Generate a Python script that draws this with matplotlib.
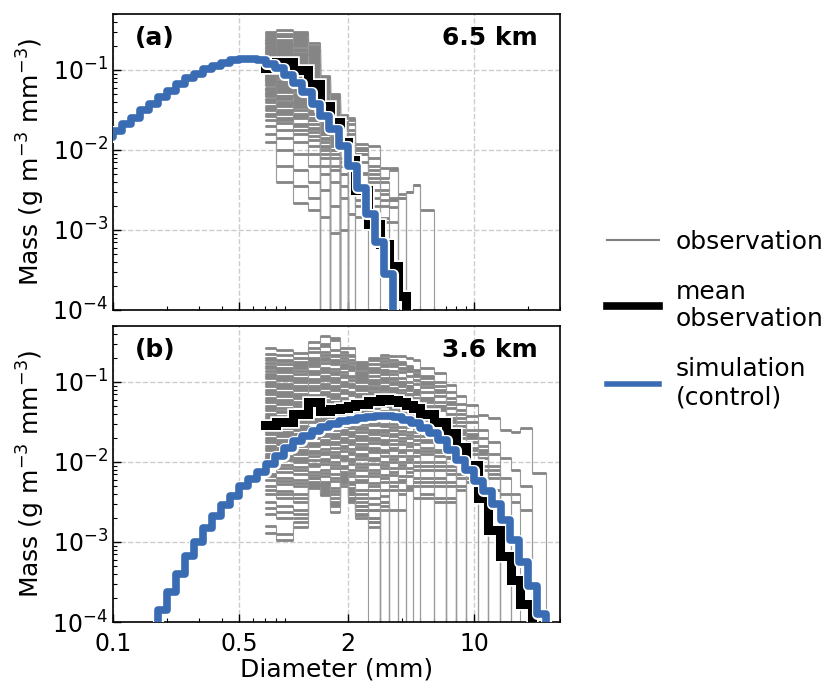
import matplotlib
matplotlib.use("Agg")
import matplotlib.pyplot as plt
import matplotlib.patheffects as pe
from matplotlib.lines import Line2D
from matplotlib.ticker import NullFormatter


BLUE = "#3a6cb4"
FLOOR = 1e-8  # stands in for zero mass, drawn below the axis

# probe size bins (mm) of the observations
OBS_EDGES = [0.7, 0.8, 1.0, 1.2, 1.4, 1.6, 1.8, 2.0, 2.2, 2.6, 3.0, 3.4, 3.8,
             4.2, 4.6, 5.0, 6.0, 7.0, 8.0, 9.0, 10.5, 12.0, 14.0, 16.0, 18.0,
             21.0, 25.0]
# model size bins (mm)
SIM_EDGES = [0.0891, 0.1, 0.112, 0.126, 0.141, 0.158, 0.178, 0.2, 0.224, 0.251,
             0.282, 0.316, 0.355, 0.398, 0.447, 0.501, 0.562, 0.631, 0.708,
             0.794, 0.891, 1.0, 1.12, 1.26, 1.41, 1.58, 1.78, 2.0, 2.24, 2.51,
             2.82, 3.16, 3.55, 3.98, 4.47, 5.01, 5.62, 6.31, 7.08, 7.94, 8.91,
             10.0, 11.2, 12.6, 14.1, 15.8, 17.8, 20.0, 22.4, 25.1, 28.2]

# log10 mass (g m-3 mm-3); None = no particles in the bin
obs_a = [
    [-0.55, -0.50, -0.52, -0.66, -1.08, -1.32, -1.56, -1.60, -1.92, -1.95, -2.22, -2.25, -2.55],
    [-0.58, -0.55, -0.60, -0.72, -1.12, -1.40, -1.65, -1.75, -2.05, -2.20, -2.50],
    [-0.60, -0.62, -0.58, -0.78, -1.15, -1.30, -1.70, -1.62, -1.98, -2.25, -2.35, -2.23, -2.60, -2.53, -2.44, -2.75],
    [-0.63, -0.66, -0.70, -0.85, -1.20, -1.45, -1.80, -1.90, -2.30, -2.60],
    [-0.66, -0.70, -0.68, -0.80, -1.25, -1.50, -1.75, -2.00, -2.29],
    [-0.70, -0.72, -0.76, -0.90, -1.18, -1.55, -1.90, -2.10],
    [-0.72, -0.78, -0.80, -0.95, -1.30, -1.60, -1.85],
    [-0.75, -0.74, -0.85, -1.00, -1.35, -1.58, -2.00, -2.20, -2.63, -2.70, -2.90],
    [-0.78, -0.82, -0.88, -1.05, -1.40, -1.70, -1.95],
    [-0.80, -0.85, -0.90, -1.08, -1.38, -1.65, -2.10, -2.40],
    [-0.83, -0.88, -0.95, -1.10, -1.45, -1.75, -2.20],
    [-0.86, -0.90, -0.98, -1.15, -1.50, -1.80],
    [-0.88, -0.95, -1.02, -1.18, -1.48, -1.85, -2.15, -2.50, -2.84],
    [-0.92, -0.98, -1.05, -1.22, -1.55, -1.90],
    [-0.95, -1.02, -1.10, -1.25, -1.60, -1.88, -2.30],
    [-0.98, -1.05, -1.12, -1.30, -1.62, -1.95],
    [-1.00, -1.08, -1.15, -1.32, -1.65, -2.05, -2.45, -2.80],
    [-1.03, -1.10, -1.20, -1.35, -1.70],
    [-1.06, -1.15, -1.22, -1.40, -1.75, -2.10],
    [-1.10, -1.18, -1.25, -1.42, -1.80, -2.00, -2.60],
    [-1.12, -1.22, -1.30, -1.45, -1.85],
    [-1.15, -1.25, -1.35, -1.50, -1.90, -2.20],
    [-1.18, -1.28, -1.38, -1.55, -1.95],
    [-1.22, -1.32, -1.42, -1.60, -2.00, -2.40, -3.00],
    [-1.25, -1.36, -1.45, -1.62],
    [-1.28, -1.40, -1.50, -1.68, -2.05],
    [-1.32, -1.45, -1.55, -1.72],
    [-1.36, -1.50, -1.60, -1.78, -2.20, -2.70],
    [-1.40, -1.55, -1.68, -1.82],
    [-1.45, -1.60, -1.75, -1.88, -2.30],
    [-1.50, -1.66, -1.80, -1.95],
    [-1.55, -1.75, -1.90, -2.05, -2.50, -3.04],
    [-1.62, -1.85, -2.05, -2.20],
    [-1.70, -2.00, -2.25, -2.40, -2.84],
    [-1.80, -2.20, -2.45, -2.60],
    [-1.90, -2.40, -2.66, -2.75],
    [-1.10, -1.05, -1.10, -1.20, -1.50, -1.70, -1.85, -1.95, -2.05, -2.40, -2.55, -2.63, None, -2.53, -2.44],
    [-0.95, -1.00, -1.05, -1.15, -1.35, -1.60, -1.75, -1.90, -2.00, -2.30, -2.63, -2.71, -2.60],
    [-1.30, -1.35, -1.40, -1.50, -1.80, -2.00, -2.30, -2.50, -2.70, -2.50, -2.85, -2.90],
    [-0.53, -0.57, -0.55, -0.70, -1.10, -1.35],
    [-0.62, -0.58, -0.64, -0.75, -1.14, -1.38, -1.60],
    [-0.68, -0.64, -0.66, -0.82, -1.16, -1.42],
    [-0.73, -0.70, -0.74, -0.88, -1.22, -1.48, -1.72],
    [-0.77, -0.76, -0.82, -0.92, -1.26, -1.52],
    [-0.82, -0.80, -0.86, -0.98, -1.32, -1.56, -1.82],
    [-0.87, -0.84, -0.92, -1.02, -1.36, -1.62],
    [-0.91, -0.89, -0.96, -1.06, -1.42, -1.68, -1.98],
    [-0.96, -0.94, -1.00, -1.12, -1.46, -1.72],
    [-1.01, -1.00, -1.08, -1.16, -1.52, -1.78],
    [-1.07, -1.06, -1.14, -1.24, -1.58, -1.84],
    [-1.13, -1.14, -1.18, -1.28, -1.64, -1.92],
    [-1.19, -1.20, -1.26, -1.34, -1.68],
    [-1.24, -1.26, -1.32, -1.40, -1.72, -2.00],
    [-1.30, -1.33, -1.40, -1.46, -1.78],
    [-1.38, -1.42, -1.46, -1.52, -1.86, -2.25],
    [-1.47, -1.52, -1.58, -1.62, -1.96],
    [-1.58, -1.62, -1.70, -1.74, -2.10],
    [-0.65, -0.68, -0.62, -0.76, -1.10, -1.34, -1.58, -1.68, -2.00, -2.10, -2.40, -2.60],
    [-0.85, -0.82, -0.80, -0.94, -1.28, -1.46, -1.68, -1.80, -2.15, -2.35, -2.70, -2.63],
]

obs_b = [
    [-0.58, -0.60, -0.64, -0.50, -0.42, -0.47, -0.62, -0.66, -0.80, -0.85, -0.90, -0.95, -1.00, -1.05, -1.10, -1.20, -1.30, -1.45, -1.60, -1.75, -1.90, -2.10],
    [-0.70, -0.72, -0.75, -0.58, -0.52, -0.45, -0.57, -0.58, -0.75, -0.72, -0.70, -0.72, -0.75, -0.80, -0.85, -0.95, -1.05, -1.20, -1.35, -1.50, -1.70, -1.90, -2.20, -2.50, -2.60],
    [-0.76, -0.74, -0.80, -0.70, -0.62, -0.66, -0.70, -0.72, -0.82, -0.70, -0.66, -0.68, -0.68, -0.70, -0.72, -0.83, -0.89, -1.04, -1.18, -1.29, -1.41, -1.45, -1.60, -1.62, -1.58, -2.14],
    [-0.80, -0.85, -0.82, -0.75, -0.70, -0.72, -0.78, -0.80, -0.88, -0.85, -0.80, -0.78, -0.82, -0.85, -0.90, -1.00, -1.10, -1.25, -1.40, -1.60, -1.80],
    [-0.86, -0.88, -0.90, -0.80, -0.76, -0.78, -0.82, -0.85, -0.90, -0.92, -0.88, -0.90, -0.95, -1.00, -1.02, -1.12, -1.25, -1.40, -1.55, -1.70, -1.95, -2.20, None, -2.40],
    [-0.90, -0.92, -0.95, -0.86, -0.82, -0.84, -0.88, -0.92, -0.95, -0.98, -0.95, -0.96, -1.00, -1.05, -1.10, -1.20, -1.30, -1.50, -1.65, -1.85],
    [-0.95, -0.98, -1.00, -0.90, -0.88, -0.90, -0.94, -0.97, -1.00, -1.02, -1.00, -1.02, -1.05, -1.10, -1.15, -1.25, -1.35, -1.55, -1.70, -1.90, -2.10, -2.35],
    [-1.00, -1.02, -1.05, -0.96, -0.92, -0.95, -1.00, -1.02, -1.05, -1.06, -1.05, -1.08, -1.10, -1.15, -1.20, -1.30, -1.45, -1.60, -1.80, -2.00],
    [-1.05, -1.08, -1.10, -1.00, -0.97, -1.00, -1.05, -1.06, -1.10, -1.12, -1.10, -1.12, -1.16, -1.20, -1.25, -1.35, -1.50, -1.70, -1.85, -2.10, -2.30, -2.50, -2.70],
    [-1.10, -1.12, -1.15, -1.05, -1.02, -1.05, -1.10, -1.12, -1.15, -1.15, -1.14, -1.18, -1.22, -1.26, -1.30, -1.42, -1.55, -1.75, -1.95],
    [-1.15, -1.18, -1.20, -1.10, -1.08, -1.10, -1.14, -1.16, -1.20, -1.20, -1.20, -1.22, -1.26, -1.30, -1.36, -1.48, -1.62, -1.80, -2.00, -2.25, -2.40],
    [-1.20, -1.22, -1.25, -1.16, -1.12, -1.15, -1.20, -1.22, -1.25, -1.26, -1.25, -1.28, -1.32, -1.36, -1.42, -1.55, -1.70, -1.90],
    [-1.25, -1.28, -1.30, -1.20, -1.18, -1.20, -1.25, -1.28, -1.30, -1.32, -1.30, -1.34, -1.38, -1.42, -1.48, -1.60, -1.75, -1.95, -2.20],
    [-1.30, -1.33, -1.35, -1.25, -1.22, -1.25, -1.30, -1.32, -1.36, -1.38, -1.36, -1.40, -1.45, -1.50, -1.55, -1.68, -1.85, -2.05],
    [-1.35, -1.38, -1.40, -1.30, -1.28, -1.30, -1.35, -1.38, -1.40, -1.42, -1.42, -1.46, -1.50, -1.56, -1.62, -1.75, -1.92, -2.15, -2.35, None, None, -2.35],
    [-1.40, -1.42, -1.45, -1.36, -1.32, -1.35, -1.40, -1.42, -1.46, -1.48, -1.48, -1.52, -1.56, -1.62, -1.68, -1.82, -2.00, -2.25],
    [-1.45, -1.48, -1.50, -1.40, -1.38, -1.40, -1.45, -1.48, -1.52, -1.54, -1.55, -1.60, -1.65, -1.70, -1.78, -1.90, -2.10],
    [-1.50, -1.52, -1.55, -1.46, -1.42, -1.45, -1.50, -1.52, -1.56, -1.60, -1.60, -1.65, -1.70, -1.76, -1.85, -2.00, -2.20, -2.45],
    [-1.55, -1.58, -1.60, -1.50, -1.48, -1.50, -1.55, -1.58, -1.62, -1.65, -1.66, -1.72, -1.78, -1.85, -1.92, -2.10, -2.30],
    [-1.60, -1.62, -1.65, -1.56, -1.52, -1.55, -1.60, -1.62, -1.68, -1.70, -1.72, -1.78, -1.85, -1.92, -2.00, -2.20, -2.45],
    [-1.65, -1.68, -1.70, -1.60, -1.58, -1.60, -1.65, -1.68, -1.72, -1.76, -1.78, -1.85, -1.92, -2.00, -2.10, -2.30],
    [-1.70, -1.72, -1.75, -1.66, -1.62, -1.65, -1.70, -1.72, -1.78, -1.82, -1.85, -1.92, -2.00, -2.08, -2.20, -2.45, None, -2.50],
    [-1.75, -1.78, -1.80, -1.70, -1.68, -1.70, -1.75, -1.78, -1.84, -1.88, -1.92, -2.00, -2.08, -2.18, -2.30],
    [-1.80, -1.82, -1.85, -1.76, -1.72, -1.75, -1.80, -1.84, -1.90, -1.95, -2.00, -2.08, -2.18, -2.30],
    [-1.85, -1.88, -1.90, -1.80, -1.78, -1.82, -1.86, -1.90, -1.96, -2.02, -2.08, -2.16, -2.25, -2.35, -2.45],
    [-1.90, -1.92, -1.95, -1.86, -1.84, -1.88, -1.92, -1.96, -2.02, -2.10, -2.16, -2.25, -2.35],
    [-1.95, -1.98, -2.00, -1.92, -1.90, -1.94, -1.98, -2.02, -2.10, -2.18, -2.25, -2.35],
    [-2.00, -2.04, -2.06, -1.98, -1.96, -2.00, -2.05, -2.10, -2.18, -2.26, -2.35],
    [-2.08, -2.12, -2.15, -2.05, -2.02, -2.08, -2.12, -2.18, -2.25, -2.35, -2.50, None, -2.60],
    [-2.15, -2.20, -2.22, -2.12, -2.10, -2.15, -2.20, -2.25, -2.35, -2.45],
    [-2.22, -2.28, -2.30, -2.20, -2.18, -2.24, -2.25, -2.32, -2.45, -2.60],
    [-2.30, -2.36, -2.40, -2.26, -2.25, -2.32, -2.30, -2.40, -2.55, -2.70],
    [-2.40, -2.45, -2.50, -2.30, -2.32, -2.40, -2.20, -2.35, -2.50, -2.60, -2.55, -2.60],
    [-2.50, -2.55, -2.60, -2.33, -2.41, -2.50, -2.25, -2.45, -2.60, -2.70, -2.60],
    [-2.65, -2.70, -2.70, -2.28, -2.38, -2.55, -2.22, -2.50, -2.70, -2.81],
    [-2.80, -2.90, -2.81, -2.25, -2.35, -2.62, -2.18, -2.40, -2.65, -2.75, -2.50],
    [-2.89, -2.98, -2.75, -2.20, -2.30, -2.45, -2.15, -2.38, -2.55, -2.70],
    [-0.65, -0.66, -0.70, -0.62, -0.55, -0.60, -0.66, -0.68, -0.78, -0.78, -0.74, -0.76, -0.78, -0.82, -0.86, -0.92, -1.00, -1.12, -1.28, -1.42, -1.60, -1.75, -1.95, -2.10, -2.30],
    [-0.73, -0.78, -0.78, -0.72, -0.66, -0.68, -0.74, -0.76, -0.84, -0.82, -0.78, -0.80, -0.84, -0.86, -0.92, -1.02, -1.12, -1.28, -1.45, -1.65, -1.85, -2.05],
    [-0.83, -0.82, -0.86, -0.78, -0.73, -0.75, -0.80, -0.83, -0.92, -0.88, -0.85, -0.86, -0.88, -0.92, -0.98, -1.06, -1.18, -1.32, -1.50, -1.68, -1.88, -2.15, -2.40],
    [-0.93, -0.95, -0.98, -0.88, -0.85, -0.88, -0.91, -0.94, -0.98, -1.00, -0.98, -1.00, -1.02, -1.08, -1.12, -1.22, -1.32, -1.48, -1.62, -1.82, -2.05],
    [-1.03, -1.05, -1.08, -0.98, -0.95, -0.98, -1.02, -1.04, -1.08, -1.09, -1.08, -1.10, -1.14, -1.18, -1.22, -1.32, -1.46, -1.64, -1.82, -2.05, -2.25],
    [-1.13, -1.15, -1.18, -1.08, -1.05, -1.08, -1.12, -1.14, -1.18, -1.18, -1.17, -1.20, -1.24, -1.28, -1.33, -1.45, -1.58, -1.78, -1.98, -2.20],
    [-1.22, -1.25, -1.28, -1.18, -1.15, -1.18, -1.22, -1.25, -1.28, -1.29, -1.28, -1.31, -1.35, -1.39, -1.45, -1.58, -1.72, -1.92, -2.15],
    [-1.33, -1.36, -1.38, -1.28, -1.25, -1.28, -1.33, -1.35, -1.38, -1.40, -1.39, -1.43, -1.48, -1.53, -1.58, -1.72, -1.88, -2.10, -2.30],
    [-1.43, -1.45, -1.48, -1.38, -1.35, -1.38, -1.43, -1.45, -1.49, -1.51, -1.52, -1.56, -1.61, -1.66, -1.72, -1.86, -2.05, -2.30],
    [-1.53, -1.55, -1.58, -1.48, -1.45, -1.48, -1.53, -1.55, -1.59, -1.62, -1.63, -1.68, -1.74, -1.80, -1.88, -2.05, -2.25],
    [-1.63, -1.65, -1.68, -1.58, -1.55, -1.58, -1.63, -1.65, -1.70, -1.73, -1.75, -1.82, -1.88, -1.96, -2.05, -2.25, -2.50],
    [-1.73, -1.75, -1.78, -1.68, -1.65, -1.68, -1.73, -1.75, -1.81, -1.85, -1.88, -1.96, -2.04, -2.12, -2.25, -2.40],
    [-1.83, -1.85, -1.88, -1.78, -1.75, -1.78, -1.83, -1.87, -1.93, -1.98, -2.04, -2.12, -2.22, -2.32],
    [-1.93, -1.95, -1.98, -1.89, -1.87, -1.91, -1.95, -1.99, -2.06, -2.14, -2.20, -2.30, -2.40],
    [-2.04, -2.08, -2.10, -2.02, -1.99, -2.04, -2.08, -2.14, -2.22, -2.30, -2.42],
    [-2.18, -2.24, -2.26, -2.16, -2.14, -2.20, -2.22, -2.28, -2.40, -2.52],
    [-2.35, -2.40, -2.45, -2.28, -2.28, -2.36, -2.26, -2.45, -2.60, -2.75],
    [-2.58, -2.62, -2.65, -2.31, -2.40, -2.52, -2.24, -2.48, -2.66],
]

mean_a = [-0.98, -0.90, -1.00, -1.18, -1.45, -1.65, -1.90, -2.12, -2.50, -2.92,
          -3.18, -3.45, -3.82]
mean_b = [-1.54, -1.50, -1.40, -1.25, -1.36, -1.34, -1.32, -1.30, -1.27, -1.24,
          -1.21, -1.22, -1.25, -1.29, -1.33, -1.40, -1.50, -1.64, -1.81, -2.04,
          -2.45, -2.85, -3.18, -3.48, -3.77]

sim_a = [-1.84, -1.76, -1.67, -1.60, -1.50, -1.42, -1.34, -1.26, -1.18, -1.10,
         -1.05, -0.99, -0.95, -0.91, -0.88, -0.86, -0.86, -0.88, -0.92, -0.98,
         -1.06, -1.16, -1.28, -1.42, -1.58, -1.74, -1.95, -2.20, -2.48, -2.80,
         -3.15, -3.55]
sim_b = [None, None, None, None, None, None, -3.85, -3.62, -3.40, -3.18,
         -3.00, -2.83, -2.68, -2.54, -2.42, -2.30, -2.21, -2.12, -2.02, -1.93,
         -1.82, -1.74, -1.67, -1.61, -1.56, -1.52, -1.49, -1.47, -1.45, -1.44,
         -1.43, -1.42, -1.44, -1.47, -1.51, -1.57, -1.64, -1.73, -1.85, -1.97,
         -2.10, -2.24, -2.36, -2.52, -2.73, -2.98, -3.25, -3.55, -3.90]

panels = [("(a)", "6.5 km", obs_a, mean_a, sim_a),
          ("(b)", "3.6 km", obs_b, mean_b, sim_b)]


def to_mass(logs):
    return [10.0 ** v if v is not None else FLOOR for v in logs]


def step_line(ax, edges, logs, **kw):
    vals = to_mass(logs)
    n = len(vals)
    x = list(edges[:n + 1]) + [edges[n]]
    y = vals + [vals[-1], FLOOR]
    return ax.plot(x, y, drawstyle="steps-post", **kw)


fig = plt.figure(figsize=(8.23, 6.84), dpi=100)
ax_a = fig.add_axes([113 / 823, 1 - 310 / 684, 447 / 823, 296 / 684])
ax_b = fig.add_axes([113 / 823, 1 - 622 / 684, 447 / 823, 296 / 684])

for ax, (tag, height, obs, mean, sim) in zip([ax_a, ax_b], panels):
    for row in obs:
        n = len(row)
        step_line(ax, OBS_EDGES, row, color="#9a9a9a", lw=0.8, zorder=2)
        # bin tops drawn a bit heavier, as in the dense original
        ax.hlines(to_mass(row), OBS_EDGES[:n], OBS_EDGES[1:n + 1],
                  color="#858585", lw=2.0, zorder=2)
    step_line(ax, OBS_EDGES, mean, color="black", lw=6.5, zorder=3,
              solid_joinstyle="miter",
              path_effects=[pe.Stroke(linewidth=9, foreground="white"),
                            pe.Normal()])
    step_line(ax, SIM_EDGES, sim, color=BLUE, lw=5.5, zorder=4,
              solid_joinstyle="round",
              path_effects=[pe.Stroke(linewidth=8, foreground="white"),
                            pe.Normal()])

    ax.set_xscale("log")
    ax.set_yscale("log")
    ax.set_xlim(0.1, 30)
    ax.set_ylim(1e-4, 0.5)
    ax.set_xticks([0.1, 0.5, 2, 10])
    ax.set_xticklabels(["0.1", "0.5", "2", "10"])
    ax.xaxis.set_minor_formatter(NullFormatter())
    ax.grid(True, which="major", ls="--", color="#cccccc", lw=1)
    ax.tick_params(which="both", direction="in", labelsize=17)
    ax.tick_params(which="major", length=6, width=1)
    ax.tick_params(which="minor", length=3, width=0.8)
    ax.tick_params(axis="x", which="major", pad=7)
    for s in ax.spines.values():
        s.set_linewidth(1.2)
    ax.set_ylabel("Mass (g m$^{-3}$ mm$^{-3}$)", fontsize=18, labelpad=4)
    ax.text(0.05, 0.92, tag, transform=ax.transAxes, fontsize=18,
            fontweight="bold", va="center")
    ax.text(0.95, 0.92, height, transform=ax.transAxes, fontsize=18,
            fontweight="bold", va="center", ha="right")

ax_a.set_xticklabels([])
ax_b.set_xlabel("Diameter (mm)", fontsize=18, labelpad=1)

handles = [Line2D([], [], color="grey", lw=1.5),
           Line2D([], [], color="black", lw=5.5),
           Line2D([], [], color=BLUE, lw=4)]
labels = ["observation", "mean\nobservation", "simulation\n(control)"]
fig.legend(handles, labels, loc="center left", bbox_to_anchor=(0.737, 0.533),
           frameon=False, fontsize=18, handlelength=2.1, handletextpad=0.68,
           labelspacing=1.04, borderaxespad=0, borderpad=0)

fig.savefig("out.png", dpi=100)
